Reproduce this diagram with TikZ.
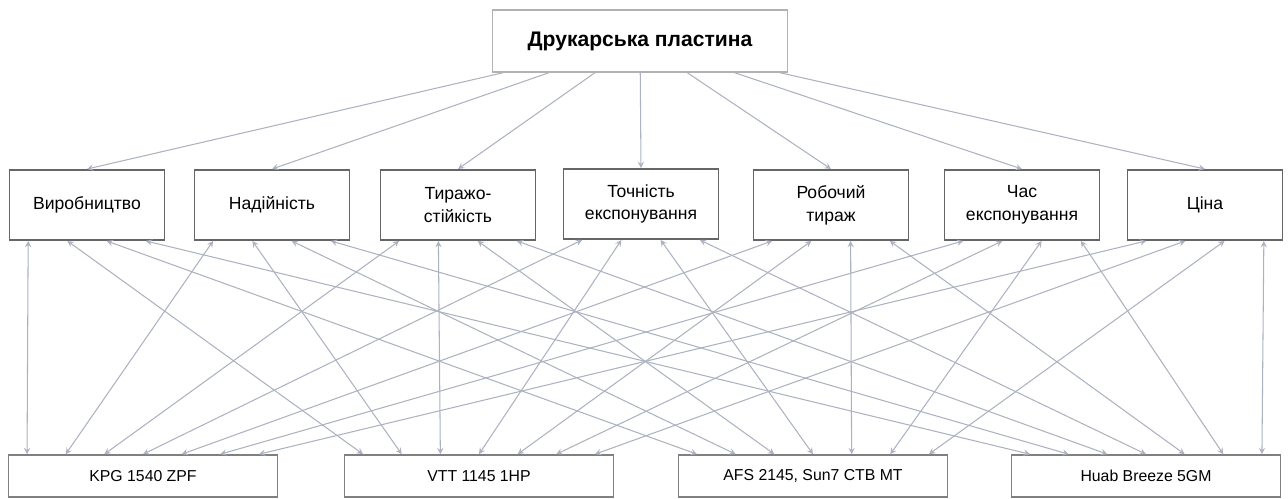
\documentclass[tikz,border=0pt]{standalone}
\usepackage{fontspec}
\setmainfont{Liberation Sans}
\usetikzlibrary{arrows,positioning,calc}
\definecolor{linkgray}{RGB}{172,178,192}
\tikzset{goal/.style={rectangle,draw=gray!60,line width=0.8pt,minimum width=5.9cm,minimum height=1.24cm,font=\fontsize{12}{14}\selectfont\bfseries}}
\tikzset{crit/.style={rectangle,draw=black!60,line width=1.1pt,minimum width=3.1cm,minimum height=1.4cm,align=center,font=\fontsize{10}{13}\selectfont}}
\tikzset{alt/.style={rectangle,draw=black!50,line width=0.9pt,minimum width=5.38cm,minimum height=0.84cm,font=\fontsize{9}{11}\selectfont}}
\tikzset{link/.style={draw=linkgray,line width=0.6pt,>=stealth}}

\begin{document}
\begin{tikzpicture}[x=0.02cm,y=-0.02cm]
  \useasboundingbox (0,0) rectangle (1288,499);
  \node[goal] (plate) at (640,41) {Друкарська пластина};
  % criteria
  \node[crit] (k1) at (87,205) {Виробництво};
  \node[crit] (k2) at (272,205) {Надійність};
  \node[crit] (k3) at (458,205) {Тиражо-\\стійкість};
  \node[crit] (k4) at (641,204) {Точність\\експонування};
  \node[crit] (k5) at (831,205) {Робочий\\тираж};
  \node[crit] (k6) at (1022,205) {Час\\експонування};
  \node[crit] (k7) at (1205,205) {Ціна};
  % alternatives
  \node[alt] (a1) at (143,476) {KPG 1540 ZPF};
  \node[alt] (a2) at (479,476) {VTT 1145 1HP};
  \node[alt] (a3) at (813,476) {AFS 2145, Sun7 CTB MT};
  \node[alt] (a4) at (1146,476) {Huab Breeze 5GM};
  \foreach \k in {1,...,7}
    \draw[link,->] (plate) -- (k\k.north);
  \foreach \k in {1,...,7}
    \foreach \a in {1,...,4}
      \draw[link,<->] ($(k\k.south west)!{(\a-0.5)/4}!(k\k.south east)$) -- ($(a\a.north west)!{(\k-0.5)/7}!(a\a.north east)$);
\end{tikzpicture}
\end{document}
